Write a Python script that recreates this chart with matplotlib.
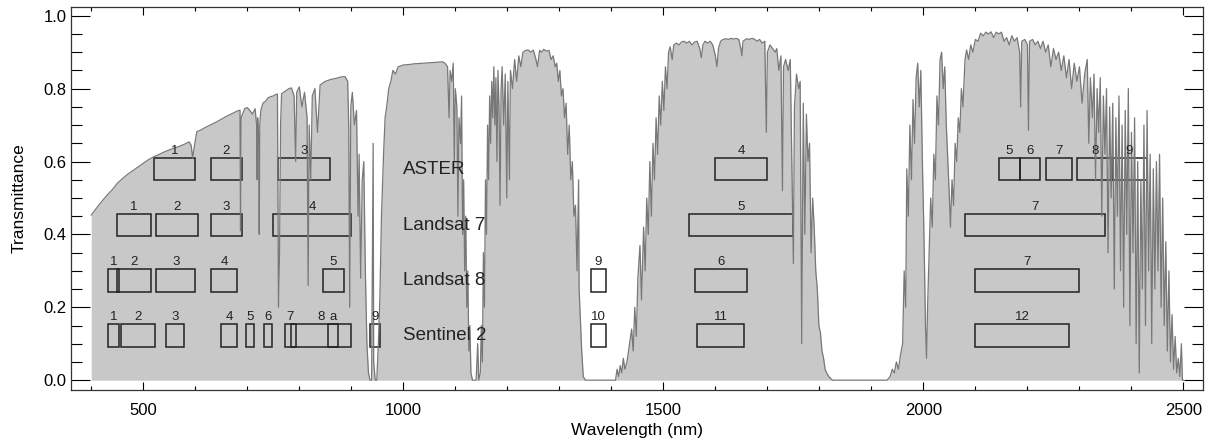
import matplotlib
matplotlib.use("Agg")
import matplotlib.pyplot as plt
from matplotlib.patches import Rectangle
from matplotlib.ticker import MultipleLocator

plt.rcParams['font.family'] = ['Liberation Sans', 'DejaVu Sans']

# atmospheric transmittance
wavelength = [
    400, 410, 420, 430, 440, 450, 460, 470, 480, 490, 500, 510, 520, 530, 540, 550, 560, 570, 580, 588,
    592, 595, 598, 603, 610, 620, 630, 640, 650, 660, 670, 680, 686, 687, 688, 695, 700, 705, 710, 715,
    718, 719, 720, 722, 723, 724, 726, 730, 735, 740, 745, 750, 755, 758, 760, 762, 764, 766, 770, 775,
    780, 785, 790, 793, 795, 800, 805, 810, 815, 817, 819, 822, 825, 830, 835, 840, 845, 850, 860, 870,
    880, 888, 893, 895, 897, 899, 902, 906, 910, 913, 915, 918, 921, 924, 927, 930, 933, 936, 939, 942,
    943, 946, 949, 952, 955, 958, 962, 965, 968, 972, 976, 980, 985, 990, 995, 1000, 1010, 1020, 1030, 1040,
    1050, 1060, 1070, 1075, 1080, 1085, 1088, 1090, 1093, 1096, 1098, 1100, 1103, 1105, 1107, 1110, 1112, 1114, 1116, 1118,
    1120, 1122, 1124, 1126, 1128, 1130, 1133, 1135, 1140, 1143, 1145, 1148, 1150, 1152, 1154, 1156, 1158, 1160, 1162, 1164,
    1166, 1168, 1170, 1172, 1174, 1176, 1178, 1180, 1182, 1184, 1186, 1188, 1190, 1193, 1196, 1199, 1201, 1204, 1206, 1210,
    1214, 1218, 1222, 1226, 1230, 1235, 1240, 1245, 1250, 1255, 1258, 1262, 1266, 1270, 1275, 1280, 1284, 1288, 1292, 1295,
    1298, 1301, 1304, 1307, 1310, 1313, 1316, 1319, 1322, 1325, 1328, 1331, 1334, 1337, 1338, 1340, 1343, 1346, 1350, 1360,
    1370, 1380, 1390, 1400, 1408, 1411, 1414, 1417, 1420, 1423, 1426, 1430, 1435, 1439, 1442, 1445, 1448, 1451, 1455, 1458,
    1462, 1465, 1468, 1471, 1474, 1477, 1480, 1483, 1486, 1489, 1492, 1495, 1498, 1501, 1504, 1507, 1510, 1513, 1517, 1520,
    1525, 1530, 1535, 1540, 1545, 1550, 1555, 1560, 1565, 1570, 1573, 1576, 1580, 1585, 1590, 1595, 1600, 1603, 1606, 1610,
    1615, 1620, 1625, 1630, 1635, 1640, 1645, 1649, 1651, 1653, 1660, 1665, 1670, 1675, 1680, 1685, 1690, 1695, 1698, 1700,
    1705, 1710, 1715, 1718, 1722, 1726, 1729, 1731, 1735, 1740, 1744, 1747, 1750, 1752, 1756, 1760, 1763, 1766, 1769, 1772,
    1775, 1778, 1781, 1784, 1787, 1790, 1793, 1796, 1799, 1802, 1805, 1808, 1811, 1814, 1818, 1825, 1850, 1870, 1890, 1910,
    1930, 1936, 1940, 1944, 1948, 1952, 1956, 1960, 1963, 1966, 1968, 1971, 1974, 1977, 1980, 1983, 1986, 1989, 1992, 1995,
    1998, 2001, 2004, 2006, 2008, 2011, 2014, 2017, 2020, 2023, 2026, 2029, 2032, 2035, 2038, 2041, 2044, 2047, 2050, 2052,
    2055, 2058, 2061, 2064, 2067, 2070, 2073, 2076, 2080, 2083, 2087, 2091, 2095, 2100, 2105, 2110, 2115, 2120, 2125, 2130,
    2135, 2140, 2145, 2150, 2155, 2160, 2165, 2170, 2175, 2180, 2185, 2187, 2189, 2195, 2200, 2202, 2204, 2210, 2215, 2220,
    2225, 2230, 2235, 2240, 2245, 2250, 2255, 2260, 2265, 2270, 2275, 2280, 2285, 2290, 2295, 2300, 2305, 2310, 2315, 2318,
    2321, 2325, 2328, 2331, 2334, 2337, 2340, 2343, 2346, 2349, 2352, 2355, 2358, 2361, 2364, 2367, 2370, 2373, 2376, 2379,
    2382, 2385, 2388, 2391, 2394, 2397, 2400, 2403, 2406, 2409, 2412, 2415, 2418, 2421, 2424, 2427, 2430, 2433, 2436, 2439,
    2442, 2445, 2448, 2451, 2454, 2457, 2460, 2463, 2466, 2469, 2472, 2475, 2478, 2481, 2484, 2487, 2490, 2493, 2496, 2498,
    2500,
]
transmittance = [
    0.453, 0.472, 0.490, 0.507, 0.522, 0.540, 0.553, 0.565, 0.575, 0.585, 0.595, 0.605, 0.613, 0.619, 0.626, 0.632, 0.637, 0.642, 0.648, 0.654,
    0.645, 0.610, 0.640, 0.682, 0.686, 0.694, 0.701, 0.708, 0.716, 0.724, 0.731, 0.738, 0.741, 0.410, 0.720, 0.745, 0.748, 0.740, 0.730, 0.745,
    0.700, 0.550, 0.720, 0.660, 0.400, 0.700, 0.740, 0.760, 0.765, 0.775, 0.778, 0.780, 0.784, 0.785, 0.200, 0.350, 0.700, 0.786, 0.790, 0.795,
    0.800, 0.802, 0.780, 0.600, 0.790, 0.805, 0.750, 0.790, 0.720, 0.260, 0.700, 0.550, 0.780, 0.800, 0.680, 0.810, 0.815, 0.820, 0.825, 0.828,
    0.832, 0.833, 0.820, 0.700, 0.200, 0.750, 0.790, 0.700, 0.740, 0.450, 0.620, 0.280, 0.550, 0.600, 0.300, 0.100, 0.020, 0.000, 0.000, 0.650,
    0.050, 0.000, 0.000, 0.100, 0.230, 0.450, 0.620, 0.720, 0.750, 0.800, 0.820, 0.850, 0.840, 0.860, 0.862, 0.865, 0.866, 0.868, 0.869, 0.870,
    0.871, 0.872, 0.873, 0.874, 0.870, 0.860, 0.720, 0.850, 0.820, 0.870, 0.600, 0.800, 0.750, 0.450, 0.720, 0.650, 0.780, 0.400, 0.550, 0.300,
    0.450, 0.200, 0.300, 0.080, 0.150, 0.020, 0.000, 0.000, 0.000, 0.100, 0.000, 0.020, 0.150, 0.050, 0.350, 0.200, 0.550, 0.400, 0.700, 0.550,
    0.780, 0.650, 0.820, 0.720, 0.860, 0.700, 0.830, 0.600, 0.850, 0.750, 0.480, 0.800, 0.860, 0.700, 0.840, 0.500, 0.820, 0.550, 0.850, 0.800,
    0.880, 0.820, 0.890, 0.860, 0.900, 0.905, 0.906, 0.900, 0.906, 0.880, 0.860, 0.905, 0.900, 0.908, 0.903, 0.905, 0.880, 0.890, 0.860, 0.870,
    0.820, 0.850, 0.780, 0.800, 0.720, 0.760, 0.620, 0.700, 0.550, 0.600, 0.450, 0.480, 0.300, 0.550, 0.250, 0.180, 0.080, 0.010, 0.000, 0.000,
    0.000, 0.000, 0.000, 0.000, 0.000, 0.030, 0.010, 0.040, 0.020, 0.060, 0.030, 0.050, 0.100, 0.140, 0.080, 0.200, 0.120, 0.280, 0.370, 0.220,
    0.420, 0.300, 0.500, 0.400, 0.600, 0.450, 0.650, 0.550, 0.720, 0.620, 0.780, 0.700, 0.820, 0.740, 0.860, 0.800, 0.900, 0.915, 0.880, 0.920,
    0.925, 0.920, 0.928, 0.930, 0.925, 0.930, 0.920, 0.928, 0.930, 0.910, 0.885, 0.920, 0.930, 0.925, 0.930, 0.920, 0.890, 0.860, 0.910, 0.930,
    0.935, 0.937, 0.935, 0.938, 0.936, 0.938, 0.935, 0.910, 0.890, 0.930, 0.937, 0.935, 0.938, 0.936, 0.930, 0.935, 0.925, 0.930, 0.680, 0.900,
    0.920, 0.910, 0.900, 0.910, 0.850, 0.890, 0.520, 0.860, 0.880, 0.850, 0.880, 0.600, 0.320, 0.750, 0.840, 0.800, 0.820, 0.100, 0.760, 0.400,
    0.730, 0.600, 0.650, 0.350, 0.500, 0.420, 0.300, 0.250, 0.150, 0.130, 0.080, 0.060, 0.030, 0.020, 0.010, 0.000, 0.000, 0.000, 0.000, 0.000,
    0.000, 0.010, 0.030, 0.020, 0.050, 0.030, 0.070, 0.100, 0.300, 0.200, 0.580, 0.450, 0.700, 0.550, 0.770, 0.650, 0.830, 0.870, 0.750, 0.850,
    0.600, 0.400, 0.150, 0.060, 0.200, 0.350, 0.500, 0.420, 0.620, 0.550, 0.780, 0.700, 0.880, 0.900, 0.800, 0.860, 0.700, 0.600, 0.500, 0.420,
    0.550, 0.480, 0.650, 0.600, 0.720, 0.680, 0.800, 0.750, 0.880, 0.906, 0.880, 0.920, 0.900, 0.935, 0.930, 0.952, 0.945, 0.955, 0.950, 0.956,
    0.940, 0.955, 0.950, 0.955, 0.930, 0.940, 0.920, 0.945, 0.930, 0.940, 0.900, 0.750, 0.930, 0.935, 0.920, 0.686, 0.930, 0.935, 0.920, 0.930,
    0.910, 0.930, 0.900, 0.920, 0.860, 0.910, 0.880, 0.900, 0.850, 0.890, 0.830, 0.880, 0.800, 0.870, 0.820, 0.860, 0.760, 0.840, 0.880, 0.650,
    0.830, 0.720, 0.840, 0.550, 0.800, 0.680, 0.830, 0.450, 0.780, 0.620, 0.800, 0.350, 0.750, 0.500, 0.760, 0.250, 0.720, 0.450, 0.780, 0.300,
    0.700, 0.200, 0.740, 0.400, 0.800, 0.150, 0.680, 0.350, 0.720, 0.100, 0.600, 0.020, 0.550, 0.250, 0.700, 0.150, 0.740, 0.300, 0.620, 0.100,
    0.580, 0.250, 0.600, 0.300, 0.620, 0.200, 0.500, 0.150, 0.380, 0.080, 0.300, 0.050, 0.180, 0.030, 0.120, 0.020, 0.060, 0.010, 0.100, 0.000,
    0.000,
]

# sensor bands (nm) and the labels written above them
sensors = ['ASTER', 'Landsat 7', 'Landsat 8', 'Sentinel 2']
row_bottoms = [0.548, 0.395, 0.243, 0.092]

aster_lo = [520, 630, 760, 1600, 2145, 2185, 2235, 2295, 2360]
aster_hi = [600, 690, 860, 1700, 2185, 2225, 2285, 2365, 2430]
aster_lbl = ['1', '2', '3', '4', '5', '6', '7', '8', '9']

l7_lo = [450, 525, 630, 750, 1550, 2080]
l7_hi = [515, 605, 690, 900, 1750, 2350]
l7_lbl = ['1', '2', '3', '4', '5', '7']

l8_lo = [433, 450, 525, 630, 845, 1360, 1560, 2100]
l8_hi = [453, 515, 600, 680, 885, 1390, 1660, 2300]
l8_lbl = ['1', '2', '3', '4', '5', '9', '6', '7']

s2_lo = [433, 458, 543, 650, 698, 733, 773, 785, 855, 935, 1360, 1565, 2100]
s2_hi = [453, 523, 578, 680, 713, 748, 793, 900, 875, 955, 1390, 1655, 2280]
s2_lbl = ['1', '2', '3', '4', '5', '6', '7', '8', 'a', '9', '10', '11', '12']

bands = [(aster_lo, aster_hi, aster_lbl), (l7_lo, l7_hi, l7_lbl),
         (l8_lo, l8_hi, l8_lbl), (s2_lo, s2_hi, s2_lbl)]
box_h = 0.061

fig = plt.figure(figsize=(12.09, 4.44), dpi=100)
ax = fig.add_axes([0.0587, 0.1216, 0.9361, 0.8634])

ax.fill_between(wavelength, 0, transmittance, color='#c8c8c8', lw=0)
ax.plot(wavelength, transmittance, color='#787878', lw=0.9)

for name, y0, (lo, hi, lbl) in zip(sensors, row_bottoms, bands):
    for a, b, t in zip(lo, hi, lbl):
        ax.add_patch(Rectangle((a, y0), b - a, box_h, fill=False,
                               edgecolor='#222222', lw=1.1))
        ax.text((a + b) / 2, y0 + box_h + 0.012, t, ha='center',
                va='baseline', fontsize=9.5, color='#222222')
    ax.text(1000, y0 + box_h / 2, name, ha='left', va='center',
            fontsize=13.5, color='#222222')

ax.set_xlim(361, 2537)
ax.set_ylim(-0.027, 1.025)
ax.xaxis.set_major_locator(MultipleLocator(500))
ax.xaxis.set_minor_locator(MultipleLocator(100))
ax.yaxis.set_major_locator(MultipleLocator(0.2))
ax.yaxis.set_minor_locator(MultipleLocator(0.05))
ax.yaxis.set_major_formatter(matplotlib.ticker.FormatStrFormatter('%.1f'))
ax.tick_params(axis='x', which='major', direction='in', top=True, length=5.5, width=0.8, labelsize=12, pad=9)
ax.tick_params(axis='x', which='minor', direction='in', top=True, length=3, width=0.8)
ax.tick_params(axis='y', which='major', direction='in', right=True, length=14, width=0.8, labelsize=12, pad=3)
ax.tick_params(axis='y', which='minor', direction='in', right=True, length=8, width=0.8)
for s in ax.spines.values():
    s.set_linewidth(0.9)
    s.set_color('#333333')

ax.set_xlabel('Wavelength (nm)', fontsize=12.5, labelpad=4)
ax.set_ylabel('Transmittance', fontsize=12.5, labelpad=12)

fig.savefig('out.png', dpi=100)
